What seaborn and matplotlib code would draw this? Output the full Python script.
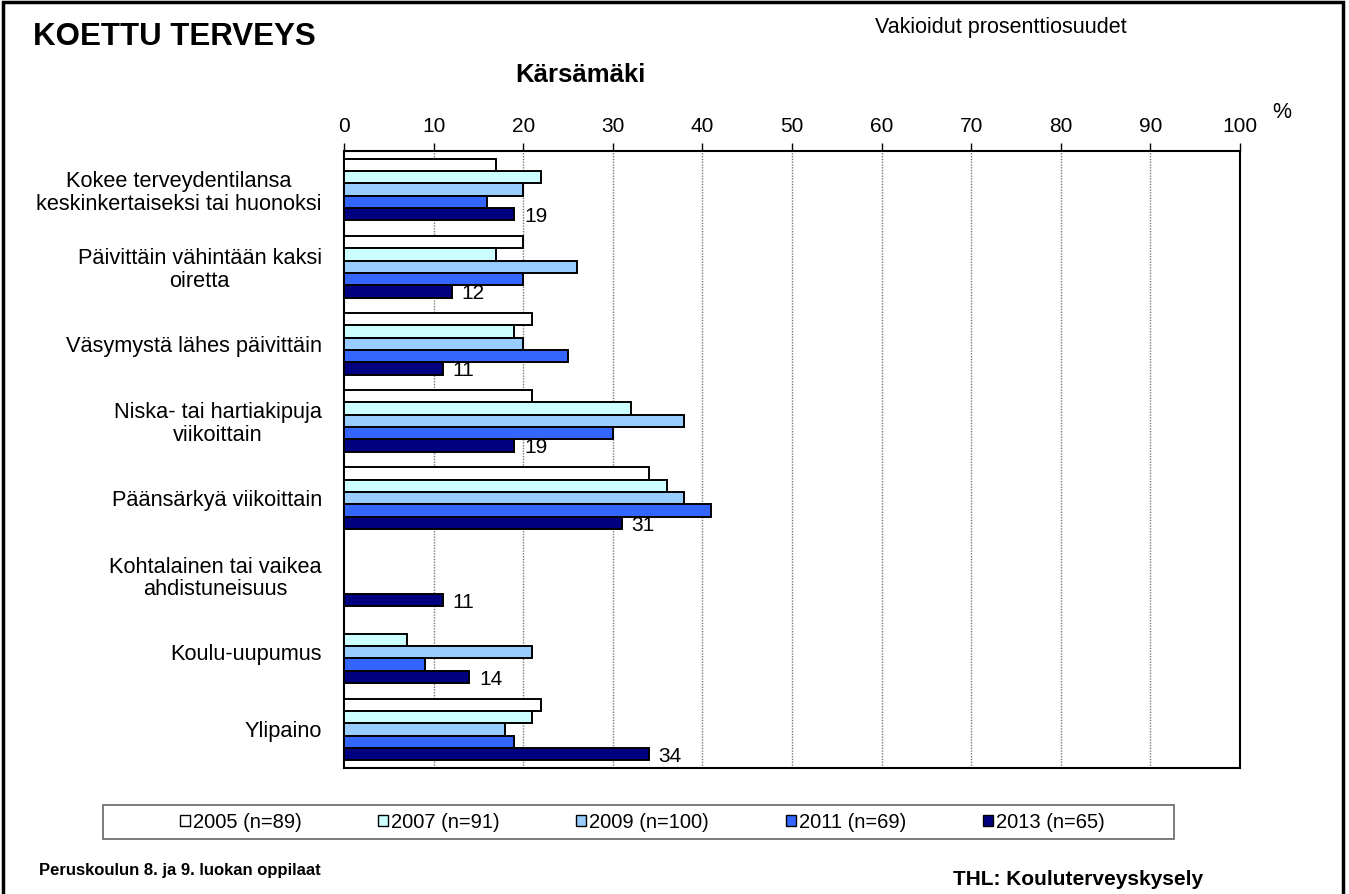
import matplotlib
matplotlib.use("Agg")
import matplotlib.pyplot as plt
import seaborn as sns
import numpy as np
import pandas as pd
from matplotlib.patches import Rectangle, Patch

# data
categories = [
    "Kokee terveydentilansa\nkeskinkertaiseksi tai huonoksi",
    "Päivittäin vähintään kaksi\noiretta",
    "Väsymystä lähes päivittäin",
    "Niska- tai hartiakipuja\nviikoittain",
    "Päänsärkyä viikoittain",
    "Kohtalainen tai vaikea\nahdistuneisuus",
    "Koulu-uupumus",
    "Ylipaino",
]
years = ["2005 (n=89)", "2007 (n=91)", "2009 (n=100)", "2011 (n=69)", "2013 (n=65)"]
v2005 = [17, 20, 21, 21, 34, np.nan, np.nan, 22]
v2007 = [22, 17, 19, 32, 36, np.nan, 7, 21]
v2009 = [20, 26, 20, 38, 38, np.nan, 21, 18]
v2011 = [16, 20, 25, 30, 41, np.nan, 9, 19]
v2013 = [19, 12, 11, 19, 31, 11, 14, 34]
colors = ["#FFFFFF", "#CCFFFF", "#99CCFF", "#3366FF", "#000080"]

rows = []
for yr, vals in zip(years, [v2005, v2007, v2009, v2011, v2013]):
    for cat, v in zip(categories, vals):
        if not np.isnan(v):
            rows.append({"cat": cat, "year": yr, "value": v})
df = pd.DataFrame(rows)

sns.set_style("white")
plt.rcParams["font.family"] = ["Liberation Sans", "DejaVu Sans"]
plt.rcParams["text.color"] = "black"
plt.rcParams["xtick.color"] = "black"
plt.rcParams["ytick.color"] = "black"

W, H = 1349, 894
fig = plt.figure(figsize=(W / 100, H / 100), dpi=100)
ax = fig.add_axes([344 / W, 1 - 768 / H, (1240 - 344) / W, (768 - 151) / H])

sns.barplot(data=df, y="cat", x="value", hue="year", order=categories, hue_order=years,
            palette=colors, saturation=1, orient="h", edgecolor="black", linewidth=1.4,
            errorbar=None, width=0.8, legend=False, ax=ax, zorder=3)

ax.set_xlim(0, 100)
ax.set_xticks(range(0, 101, 10))
ax.xaxis.tick_top()
ax.tick_params(axis="x", direction="out", length=6, width=1, labelsize=15, pad=5, colors="black")
ax.tick_params(axis="y", length=0, labelsize=15.7, pad=16, colors="black")
ax.set_yticks(range(len(categories)))
ax.set_yticklabels(categories, multialignment="center", linespacing=1.1)
ax.set_xlabel("")
ax.set_ylabel("")
for x in range(10, 100, 10):
    ax.axvline(x, color="#777777", linestyle=(0, (1, 1)), linewidth=1, zorder=1)
for s in ax.spines.values():
    s.set_visible(True)
    s.set_color("black")
    s.set_linewidth(1.5)

# value labels for 2013 bars
n_h = len(years)
bw = 0.8 / n_h
for i, v in enumerate(v2013):
    ypos = i - 0.4 + bw * 4.5
    ax.text(v + 1.1, ypos + 0.03, f"{v:.0f}", fontsize=15, ha="left", va="center", zorder=4)

# texts
fig.text(33 / W, 1 - 37 / H, "KOETTU TERVEYS", fontsize=22.5, fontweight="bold", va="center")
fig.text(1001 / W, 1 - 27 / H, "Vakioidut prosenttiosuudet", fontsize=15.5, ha="center", va="center")
fig.text(580 / W, 1 - 75 / H, "Kärsämäki", fontsize=18.5, fontweight="bold", ha="center", va="center")
fig.text(1282 / W, 1 - 112 / H, "%", fontsize=15.5, ha="center", va="center")
fig.text(39 / W, 1 - 875 / H, "Peruskoulun 8. ja 9. luokan oppilaat", fontsize=12,
         fontweight="bold", va="baseline")
fig.text(1203 / W, 1 - 885 / H, "THL: Kouluterveyskysely", fontsize=15,
         fontweight="bold", ha="right", va="baseline")

# legend box and legend
fig.patches.append(Rectangle((103 / W, 1 - 839 / H), (1174 - 103) / W, 34 / H, transform=fig.transFigure,
                             fill=False, edgecolor="#666666", linewidth=1.2))
handles = [Patch(facecolor=c, edgecolor="black", linewidth=1) for c in colors]
leg = fig.legend(handles, years, loc="center", ncol=5, fontsize=14.5,
                 bbox_to_anchor=(642 / W, 1 - 822 / H), frameon=False,
                 handlelength=0.5, handleheight=0.5, handletextpad=0.15, columnspacing=3.8)

# outer border (bottom edge falls outside the image)
fig.patches.append(Rectangle((3 / W, -10 / H), 1340 / W, 902 / H, transform=fig.transFigure,
                             fill=False, edgecolor="black", linewidth=2.5))

fig.savefig("out.png", dpi=100)
